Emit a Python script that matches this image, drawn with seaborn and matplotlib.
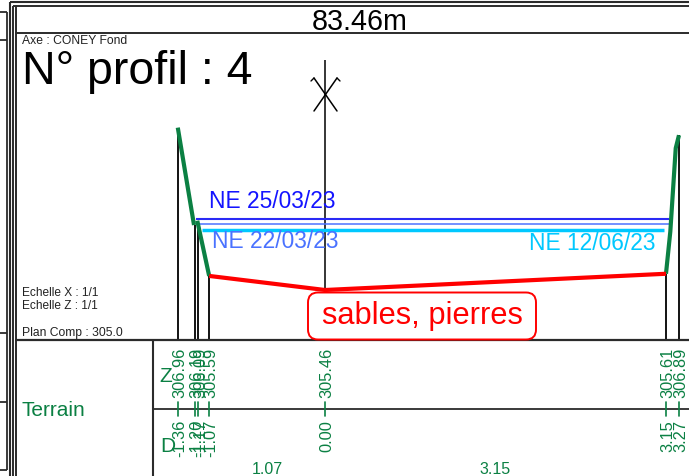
#libraries
import seaborn as sns
import pandas as pd
from matplotlib import pyplot as plt
from matplotlib.patches import FancyBboxPatch

sns.set_theme(style='white')
plt.rcParams['font.family']=['Liberation Sans','DejaVu Sans']

#terrain points (D in m, Z in m)
left_d=[-1.36,-1.21]
left_z=[306.96,306.06]
bank_d=[-1.18,-1.07]
bank_z=[306.10,305.59]
bed_d=[-1.07,0.00,3.15]
bed_z=[305.59,305.46,305.61]
right_d=[3.15,3.19,3.24,3.27]
right_z=[305.61,306.00,306.77,306.89]

#water levels
water_labels=['NE 25/03/23','NE 22/03/23','NE 12/06/23']
water_z=[306.115,306.067,306.018]
water_start=[-1.19,-1.16,-1.135]
water_end=[3.175,3.175,3.13]
water_colors=['#2a2af5','#4a72ff','#00c8ff']
water_widths=[1.5,1.1,2.5]

#labels of the band
tick_d=[-1.36,-1.20,-1.17,-1.07,0.00,3.15,3.27]
tick_z=[306.96,306.19,306.09,305.59,305.46,305.61,306.89]
seg_d=[-0.535,1.575]
seg_lab=['1.07','3.15']

green='#0b8043'
dark='#2b2b2b'

#full figure axes, 1/1 scale, D=0 at x=325px and Z=305.46 at y=290px
px=108.25
fig=plt.figure(figsize=(6.89,4.76),dpi=100)
ax=fig.add_axes([0,0,1,1])

#pixel overlay for the frame and text
fr=fig.add_axes([0,0,1,1])
fr.set_xlim(0,689)
fr.set_ylim(476,0)
fr.axis('off')
fr.patch.set_alpha(0)

#verticals under the profile points
bottom=305.46-(339.5-290)/px
tops=[306.96,306.06,306.06,305.59,305.46,305.61,306.89]
ax.vlines(tick_d,bottom,tops,color='black',lw=1.3,zorder=1)
ax.vlines([0],bottom,305.46+(290-60)/px,color='black',lw=1.1,zorder=1)

#water
for i in range(3):
    wat=pd.DataFrame({'d':[water_start[i],water_end[i]],'z':[water_z[i],water_z[i]]})
    sns.lineplot(data=wat,x='d',y='z',color=water_colors[i],lw=water_widths[i],ax=ax,legend=False,zorder=2+i*0.1,solid_capstyle='butt')

#terrain
for d,z,c in [(left_d,left_z,green),(bank_d,bank_z,green),(right_d,right_z,green),(bed_d,bed_z,'#ff0000')]:
    seg=pd.DataFrame({'d':d,'z':z})
    sns.lineplot(data=seg,x='d',y='z',sort=False,color=c,lw=3.0,ax=ax,legend=False,zorder=3,solid_capstyle='butt')
ax.set_xlim(-325/px,(689-325)/px)
ax.set_ylim(305.46-(476-290)/px,305.46+290/px)
ax.axis('off')

#frame
fr.vlines([10],2,476,color=dark,lw=1.5)
fr.vlines([13,15.5],6,476,color=dark,lw=1.4)
fr.hlines([2],10,689,color=dark,lw=1.5)
fr.hlines([6],13,689,color=dark,lw=1.4)
fr.hlines([33],15,689,color=dark,lw=1.4)
fr.hlines([339.5],15,689,color=dark,lw=1.6)
fr.hlines([409],153,689,color=dark,lw=1.3)
fr.vlines([153],339.5,476,color=dark,lw=1.5)
fr.vlines([7],12,470,color=dark,lw=1.3)
fr.hlines([12,40,333,402,470],0,7,color=dark,lw=1.3)

#axis cross
fr.plot([314,337],[78,111],color='black',lw=1.1)
fr.plot([337,314],[78,111],color='black',lw=1.1)
fr.plot([311,314],[81,78],color='black',lw=1)
fr.plot([337,340],[78,81],color='black',lw=1)

#texts
fr.text(360,22.5,'83.46m',fontsize=20.7,ha='center',va='center',color='black')
fr.text(22,41,'Axe : CONEY Fond',fontsize=8.7,ha='left',va='center',color='#222222')
fr.text(22,72,'N° profil : 4',fontsize=33.5,ha='left',va='center',color='black')
fr.text(22,293,'Echelle X : 1/1',fontsize=8.6,ha='left',va='center',color='#222222')
fr.text(22,306,'Echelle Z : 1/1',fontsize=8.6,ha='left',va='center',color='#222222')
fr.text(22,333,'Plan Comp : 305.0',fontsize=8.7,ha='left',va='center',color='#222222')
fr.text(22,411,'Terrain',fontsize=15,ha='left',va='center',color=green)
fr.text(166,377,'Z',fontsize=15,ha='center',va='center',color=green)
fr.text(168,446,'D',fontsize=15,ha='center',va='center',color=green)

fr.text(209,201,water_labels[0],fontsize=16.4,ha='left',va='center',color='#1414ff')
fr.text(212,241,water_labels[1],fontsize=16.4,ha='left',va='center',color=water_colors[1])
fr.text(529,244,water_labels[2],fontsize=16.4,ha='left',va='center',color=water_colors[2])

#sables box
box=FancyBboxPatch((308,292.5),228,47,boxstyle='round,pad=0,rounding_size=10',fc='white',ec='#ff0000',lw=1.4,zorder=5)
fr.add_patch(box)
fr.text(422,316,'sables, pierres',fontsize=22.2,ha='center',va='center',color='#ff0000',zorder=6)

#band labels, rotated, on either side of the row line
for d,z in zip(tick_d,tick_z):
    x=325+d*px
    fr.plot([x,x],[402,416],color=green,lw=1.2)
    fr.text(x+2,398,'%.2f'%z,rotation=90,fontsize=11.8,ha='center',va='bottom',color=green)
    fr.text(x+2,420,'%.2f'%d,rotation=90,fontsize=11.8,ha='center',va='top',color=green)
for d,l in zip(seg_d,seg_lab):
    fr.text(325+d*px,470,l,fontsize=11.5,ha='center',va='center',color=green)

fig.savefig('out.png',dpi=100)
